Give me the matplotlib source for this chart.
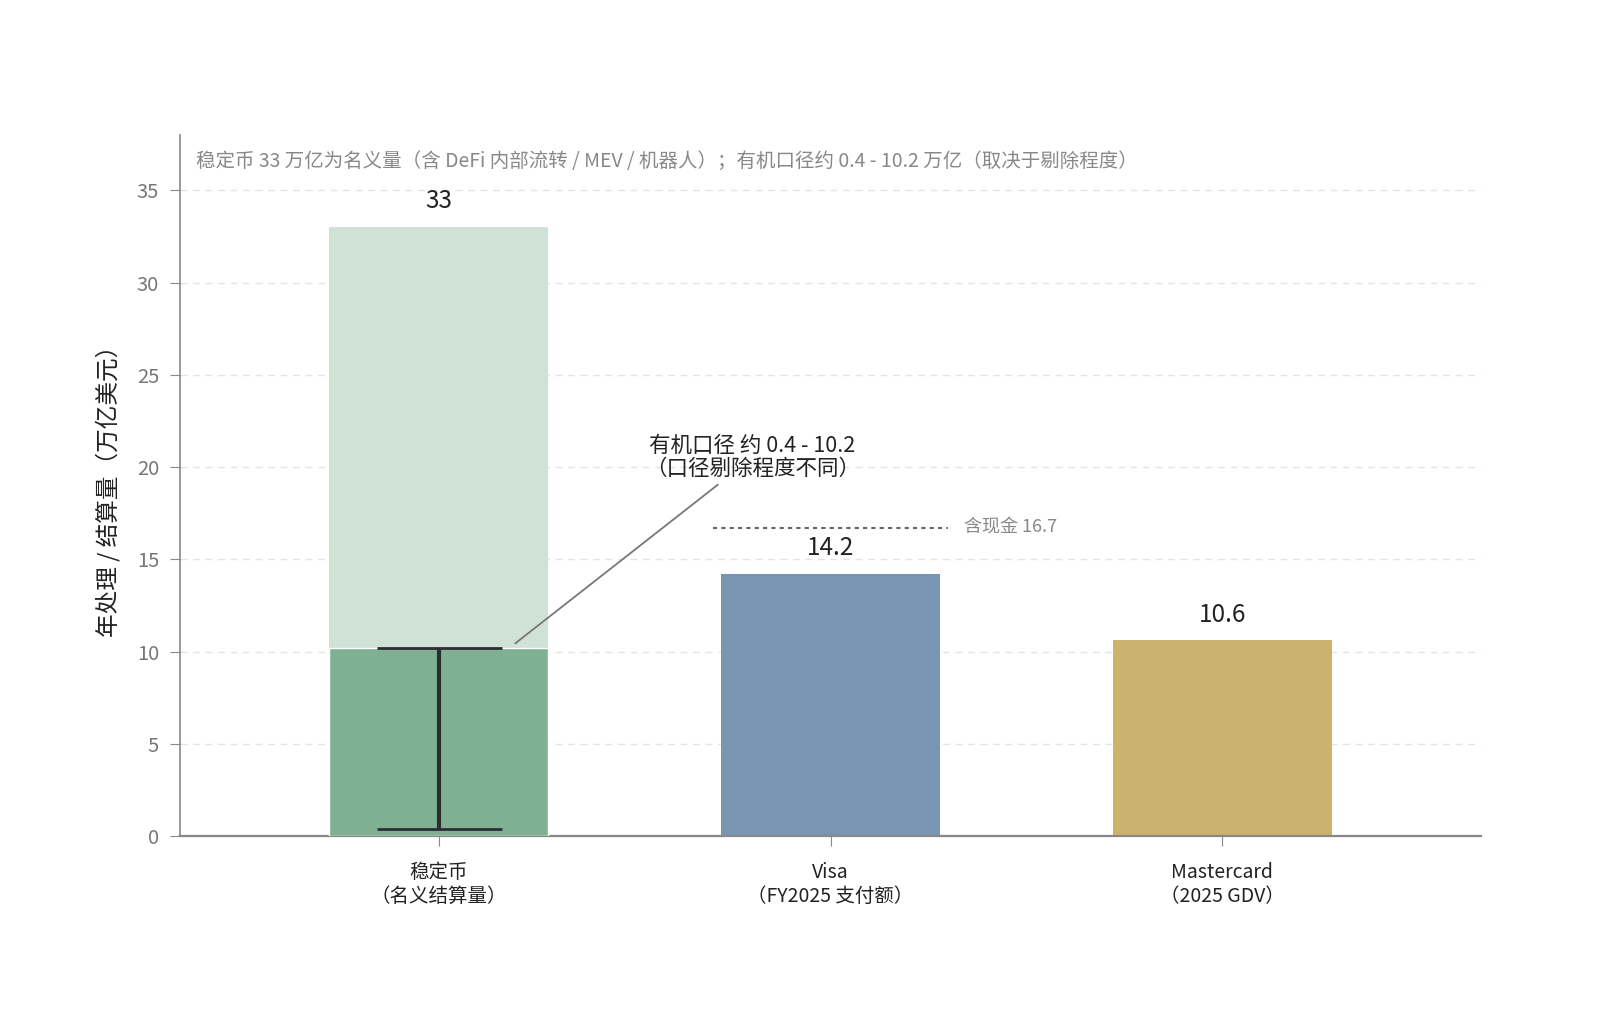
import numpy as np
import matplotlib.pyplot as plt

plt.rcParams['font.family'] = ['Noto Sans CJK SC', 'DejaVu Sans']

# data
labels = ['稳定币\n（名义结算量）', 'Visa\n（FY2025 支付额）', 'Mastercard\n（2025 GDV）']
values = [33, 14.2, 10.6]
organic_low = 0.4
organic_high = 10.2
visa_cash = 16.7
colors = ['#d0e1d6', '#7895b2', '#cbb26f']
organic_color = '#80b092'

fig = plt.figure(figsize=(16, 10.22), dpi=100)
ax = fig.add_axes([180/1600, 1-836/1022, (1481-180)/1600, (836-135)/1022])

x = np.arange(len(values))
w = 0.56
ax.bar(x, values, width=w, color=colors, zorder=2)
# organic part of stablecoin volume
ax.bar(x[0], organic_high, width=w, color=organic_color, edgecolor='white', linewidth=1, zorder=3)
mid = (organic_low + organic_high) / 2
ax.errorbar(x[0], mid, yerr=[[mid-organic_low], [organic_high-mid]], fmt='none',
            ecolor='#2b2d33', elinewidth=3, capsize=45, capthick=2, zorder=4)

# value labels
for xi, v in zip(x, values):
    ax.text(xi, v + 0.7, f'{v:g}', ha='center', va='bottom', fontsize=17.5, color='#222222')

# visa incl. cash
ax.hlines(visa_cash, x[1]-0.3, x[1]+0.3, colors='#666666', linestyles=(0, (2, 2)), linewidth=1.5)
ax.text(x[1]+0.34, visa_cash, f'含现金 {visa_cash}', ha='left', va='center', fontsize=13, color='#888888')

ax.annotate('有机口径 约 0.4 - 10.2\n（口径剔除程度不同）', xy=(x[0]+0.19, 10.35),
            xytext=(x[0]+0.8, 20.5), ha='center', va='center', fontsize=15.5, color='#222222',
            linespacing=1.05,
            arrowprops=dict(arrowstyle='-', color='#777777', lw=1.3))

ax.text(0.012, 0.963, '稳定币 33 万亿为名义量（含 DeFi 内部流转 / MEV / 机器人）；有机口径约 0.4 - 10.2 万亿（取决于剔除程度）',
        transform=ax.transAxes, ha='left', va='center', fontsize=14, color='#888888')

ax.set_xlim(-0.66, 2.66)
ax.set_ylim(0, 38)
ax.set_yticks([0, 5, 10, 15, 20, 25, 30, 35])
ax.set_xticks(x)
ax.set_xticklabels(labels, fontsize=14, color='#222222', linespacing=1.15)
ax.tick_params(axis='y', labelsize=14.5, labelcolor='#777777', color='#888888', length=7, pad=8)
ax.tick_params(axis='x', color='#888888', length=7, pad=12)
ax.set_ylabel('年处理 / 结算量（万亿美元）', fontsize=17, color='#222222', labelpad=12)

ax.yaxis.grid(True, linestyle=(0, (5, 4)), color='#e4e4e4', linewidth=1, zorder=0)
ax.set_axisbelow(True)
for s in ['top', 'right']:
    ax.spines[s].set_visible(False)
ax.spines['left'].set_color('#888888')
ax.spines['bottom'].set_color('#888888')
ax.spines['left'].set_linewidth(1.2)
ax.spines['bottom'].set_linewidth(1.6)

fig.savefig('out.png', dpi=100)
